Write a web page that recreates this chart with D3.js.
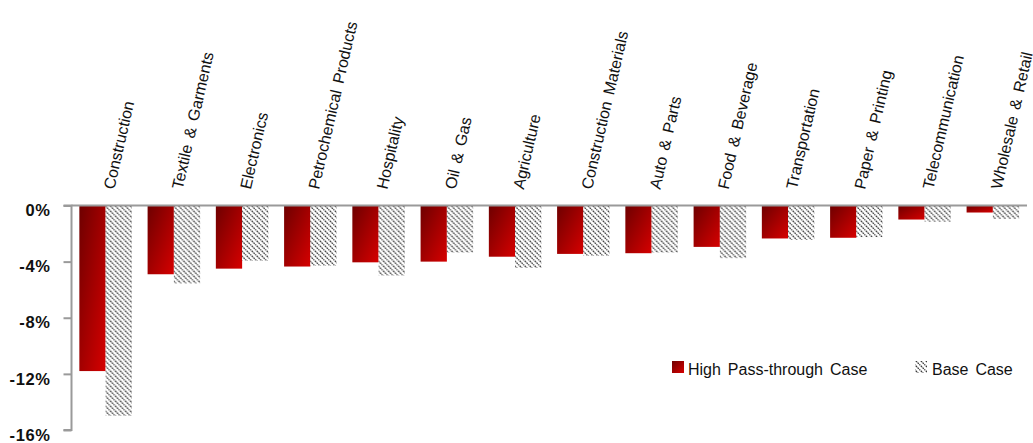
<!DOCTYPE html>
<html>
<head>
<meta charset="utf-8">
<script src="https://cdn.jsdelivr.net/npm/d3@7"></script>
<style>
  html, body { margin: 0; padding: 0; background: #fff; }
  svg { display: block; }
  text { font-family: "Liberation Sans", Arial, Helvetica, sans-serif; fill: #111; }
</style>
</head>
<body>
<svg id="chart" width="1033" height="443"></svg>
<script>
// Sector impact under two pass-through assumptions (% change)
const categories = [
  "Construction", "Textile & Garments", "Electronics", "Petrochemical Products",
  "Hospitality", "Oil & Gas", "Agriculture", "Construction Materials",
  "Auto & Parts", "Food & Beverage", "Transportation", "Paper & Printing",
  "Telecommunication", "Wholesale & Retail"
];
const highPassThrough = [-11.8, -4.9, -4.5, -4.35, -4.05, -4.0, -3.65, -3.45, -3.4, -2.95, -2.35, -2.3, -1.0, -0.5];
const baseCase = [-15.0, -5.55, -3.95, -4.3, -5.0, -3.35, -4.45, -3.6, -3.35, -3.75, -2.45, -2.25, -1.15, -0.95];
const yTicks = [0, -4, -8, -12, -16];
const seriesNames = ["High Pass-through Case", "Base Case"];

const svg = d3.select("#chart");
const defs = svg.append("defs");

// Dark-to-bright red fill
const grad = defs.append("linearGradient")
  .attr("id", "redFill")
  .attr("x1", 0).attr("y1", 0).attr("x2", 1).attr("y2", 1);
grad.append("stop").attr("offset", "0%").attr("stop-color", "#6e0000");
grad.append("stop").attr("offset", "100%").attr("stop-color", "#d60000");

// Back-slash hatching for the base case
const hatch = defs.append("pattern")
  .attr("id", "hatch")
  .attr("patternUnits", "userSpaceOnUse")
  .attr("width", 5).attr("height", 5);
hatch.append("rect").attr("width", 5).attr("height", 5).attr("fill", "#fff");
hatch.append("path")
  .attr("d", "M-1,-1 L6,6 M-1,4 L1,6 M4,-1 L6,1")
  .attr("stroke", "#3a3a3a")
  .attr("stroke-width", 1.2)
  .attr("stroke-dasharray", "1.8,0.7");

const left = 71.5, right = 1027, zeroY = 205.5, bottomY = 430;

const x0 = d3.scaleBand()
  .domain(categories)
  .range([left, right])
  .paddingInner(0.23)
  .paddingOuter(0.115);

const x1 = d3.scaleBand()
  .domain(seriesNames)
  .range([0, x0.bandwidth()]);

const y = d3.scaleLinear()
  .domain([-16, 0])
  .range([bottomY, zeroY]);

const rows = categories.map((c, i) => ({
  category: c,
  values: [
    { key: seriesNames[0], value: highPassThrough[i] },
    { key: seriesNames[1], value: baseCase[i] }
  ]
}));

// Bars
const groups = svg.append("g").selectAll("g")
  .data(rows)
  .join("g")
  .attr("transform", d => `translate(${x0(d.category)},0)`);

groups.selectAll("rect")
  .data(d => d.values)
  .join("rect")
  .attr("x", d => x1(d.key))
  .attr("width", x1.bandwidth())
  .attr("y", d => y(Math.max(0, d.value)))
  .attr("height", d => Math.abs(y(d.value) - y(0)))
  .attr("fill", d => d.key === seriesNames[0] ? "url(#redFill)" : "url(#hatch)");

// Y axis
const yAxis = d3.axisLeft(y)
  .tickValues(yTicks)
  .tickSize(8)
  .tickPadding(13)
  .tickFormat(d => d + "%");

const yg = svg.append("g")
  .attr("transform", `translate(${left},0)`)
  .call(yAxis);
yg.select(".domain").attr("stroke", "#9a9a9a").attr("stroke-width", 2)
  .attr("d", `M-8,${zeroY}H0V${bottomY}H-8`);
yg.selectAll(".tick line").attr("stroke", "#9a9a9a").attr("stroke-width", 2);
yg.selectAll(".tick text")
  .attr("dy", "0.62em")
  .style("font-size", "16.5px")
  .style("font-weight", "bold")
  .style("letter-spacing", "0.6px")
  .attr("fill", "#000");

// Zero line across the plot
svg.append("line")
  .attr("x1", left).attr("x2", right)
  .attr("y1", y(0)).attr("y2", y(0))
  .attr("stroke", "#9a9a9a")
  .attr("stroke-width", 2);

// Category labels, nearly vertical
svg.append("g").selectAll("text")
  .data(categories)
  .join("text")
  .attr("transform", d => `translate(${x0(d) + x0.bandwidth() / 2 + 8.5},190) rotate(-77)`)
  .attr("text-anchor", "start")
  .style("font-size", "16px")
  .style("word-spacing", "2.5px")
  .text(d => d);

// Legend
const legend = svg.append("g");
const legendItems = [
  { name: seriesNames[0], fill: "url(#redFill)", x: 672, tx: 688 },
  { name: seriesNames[1], fill: "url(#hatch)", x: 915, tx: 932 }
];
legend.selectAll("rect")
  .data(legendItems)
  .join("rect")
  .attr("x", d => d.x)
  .attr("y", 361)
  .attr("width", 12)
  .attr("height", 12)
  .attr("fill", d => d.fill);
legend.selectAll("text")
  .data(legendItems)
  .join("text")
  .attr("x", d => d.tx)
  .attr("y", 375)
  .style("font-size", "16px")
  .style("word-spacing", "2.5px")
  .text(d => d.name);
</script>
</body>
</html>
